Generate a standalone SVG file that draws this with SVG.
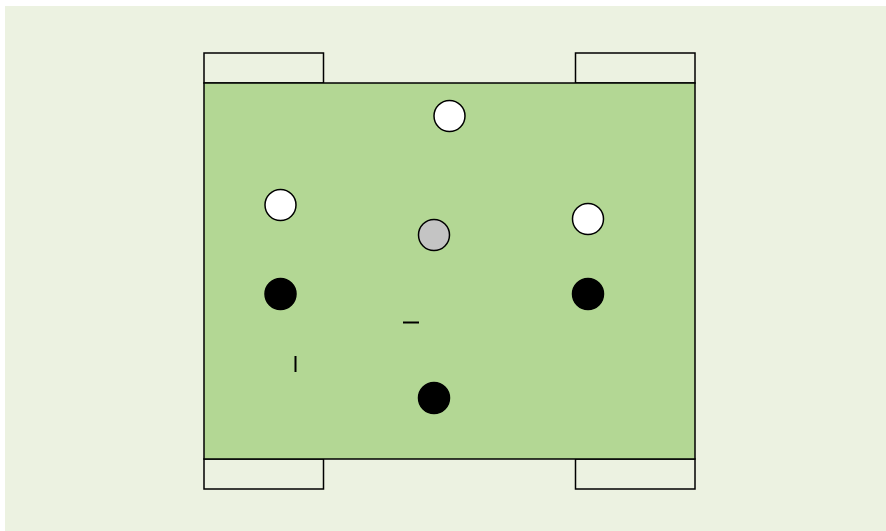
<svg xmlns="http://www.w3.org/2000/svg" width="886" height="531" viewBox="0 0 886 531">
<style>
.tab{fill:#ecf2e1;stroke:#000;stroke-width:1.5}
.body{fill:#b3d794;stroke:#000;stroke-width:1.5}
.w{fill:#fff;stroke:#000;stroke-width:1.5}
.g{fill:#c4c4c4;stroke:#000;stroke-width:1.5}
.b{fill:#000;stroke:#000;stroke-width:1.5}
.m{stroke:#000;stroke-width:2;fill:none}
</style>
<rect x="5" y="6" width="881" height="525" fill="#ecf2e1"/>
<g id="table">
<rect class="tab" x="204" y="53" width="119.5" height="30"/>
<rect class="tab" x="575.5" y="53" width="119.5" height="30"/>
<rect class="tab" x="204" y="459" width="119.5" height="30"/>
<rect class="tab" x="575.5" y="459" width="119.5" height="30"/>
<rect class="body" x="204" y="83" width="491" height="376"/>
</g>
<g id="n1"><circle class="w" cx="449.5" cy="116" r="15.5"/></g>
<g id="n2"><circle class="w" cx="280.5" cy="205" r="15.5"/></g>
<g id="n3"><circle class="w" cx="588" cy="219" r="15.5"/></g>
<g id="n4"><circle class="g" cx="434" cy="235" r="15.5"/></g>
<g id="n5"><circle class="b" cx="280.5" cy="294" r="15.5"/></g>
<g id="n6"><circle class="b" cx="588" cy="294" r="15.5"/></g>
<g id="n7"><circle class="b" cx="434" cy="398" r="15.5"/></g>
<g id="connectors">
<line class="m" x1="403" y1="322.5" x2="419" y2="322.5"/>
<line class="m" x1="295.5" y1="356" x2="295.5" y2="372"/>
</g>
</svg>
